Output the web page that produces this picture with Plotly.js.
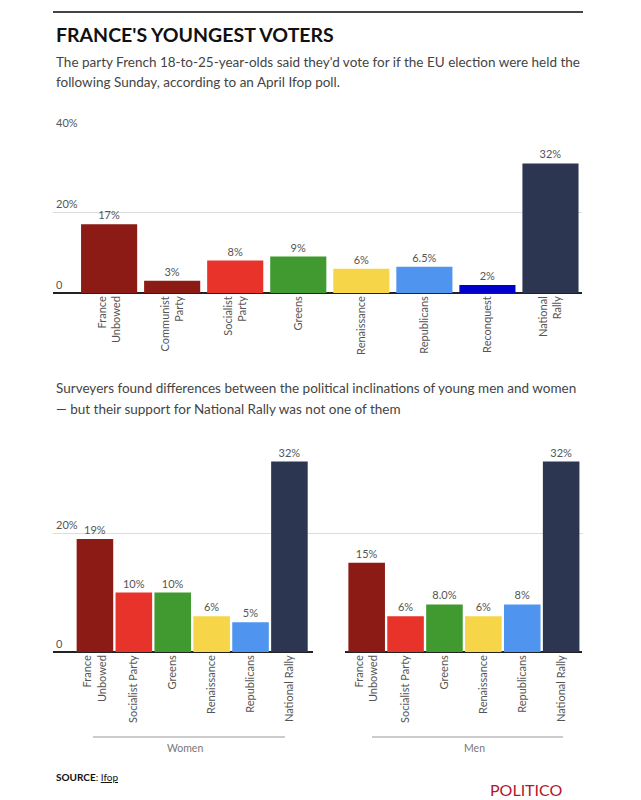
<!DOCTYPE html>
<html>
<head>
<meta charset="utf-8">
<script src="https://cdn.plot.ly/plotly-3.0.1.min.js"></script>
<style>html,body{margin:0;padding:0;background:#fff;}#chart{width:641px;height:800px;}</style>
</head>
<body>
<div id="chart"></div>
<script>
// ---- Data ----
var topCategories = ["France<br>Unbowed","Communist<br>Party","Socialist<br>Party","Greens","Renaissance","Republicans","Reconquest","National<br>Rally"];
var topValues = [17, 3, 8, 9, 6, 6.5, 2, 32];
var topLabels = ["17%","3%","8%","9%","6%","6.5%","2%","32%"];
var topColors = ["#8c1a15","#8c1a15","#e8332a","#409a2f","#f6d548","#4f95ef","#0000cc","#2c3651"];

var genderCategories = ["France<br>Unbowed","Socialist Party","Greens","Renaissance","Republicans","National Rally"];
var womenValues = [19, 10, 10, 6, 5, 32];
var womenLabels = ["19%","10%","10%","6%","5%","32%"];
var menValues = [15, 6, 8, 6, 8, 32];
var menLabels = ["15%","6%","8.0%","6%","8%","32%"];
var genderColors = ["#8c1a15","#e8332a","#409a2f","#f6d548","#4f95ef","#2c3651"];

var topTickVals = [0, 20, 40];
var topTickText = ["0","20%","40%"];
var bottomTickVals = [0, 20];
var bottomTickText = ["0","20%"];

// ---- Helpers ----
var W = 641, H = 800;
function px(x){ return x / W; }
function py(y){ return 1 - y / H; }
var FONT = "Lato, 'Open Sans', sans-serif";

function barTrace(cats, vals, labels, colors, xa, ya, w){
  return {
    type: "bar", x: cats, y: vals, text: labels, textposition: "outside",
    texttemplate: "%{text}", cliponaxis: false, width: w,
    marker: {color: colors, line: {width: 0}},
    textfont: {family: FONT, size: 11, color: "#555"},
    xaxis: xa, yaxis: ya, hoverinfo: "skip", showlegend: false
  };
}

var traces = [
  barTrace(topCategories, topValues, topLabels, topColors, "x", "y", 0.89),
  {type: "scatter", mode: "lines", x: [], y: [], xaxis: "x2", yaxis: "y2", hoverinfo: "skip", showlegend: false},
  barTrace(genderCategories, womenValues, womenLabels, genderColors, "x3", "y3", 0.94),
  barTrace(genderCategories, menValues, menLabels, genderColors, "x4", "y4", 0.94)
];

var catAxis = function(domain, range, anchor){
  return {
    domain: domain, range: range, anchor: anchor, type: "category",
    showgrid: false, zeroline: false, showline: false, ticks: "",
    tickangle: -90, tickfont: {family: FONT, size: 11, color: "#555"},
    fixedrange: true
  };
};

var layout = {
  width: W, height: H,
  margin: {l: 0, r: 0, t: 0, b: 0},
  paper_bgcolor: "#fff", plot_bgcolor: "rgba(0,0,0,0)",
  font: {family: FONT, color: "#333"},
  showlegend: false,
  // top chart
  xaxis: catAxis([px(53), px(582)], [-0.89, 7.5], "y"),
  yaxis: {
    domain: [py(293), py(131)], range: [0, 40], anchor: "x",
    tickvals: topTickVals, ticktext: topTickText,
    ticklabelposition: "inside top", ticklabeloverflow: "allow",
    tickfont: {family: FONT, size: 11, color: "#555"},
    showgrid: true, gridcolor: "#dcdcdc", gridwidth: 1,
    zeroline: true, zerolinecolor: "#222", zerolinewidth: 2,
    showline: false, ticks: "", fixedrange: true
  },
  // bottom grid (shared background)
  xaxis2: {domain: [px(53), px(583)], range: [0, 1], anchor: "y2", visible: false, fixedrange: true},
  yaxis2: {
    domain: [py(652), py(449.7)], range: [0, 34], anchor: "x2",
    tickvals: bottomTickVals, ticktext: bottomTickText,
    ticklabelposition: "inside top", ticklabeloverflow: "allow",
    tickfont: {family: FONT, size: 11, color: "#555"},
    showgrid: true, gridcolor: "#dcdcdc", gridwidth: 1,
    zeroline: false, showline: false, ticks: "", fixedrange: true
  },
  // bottom left (women)
  xaxis3: catAxis([px(53), px(313)], [-1.078, 5.606], "y3"),
  yaxis3: {
    domain: [py(652), py(449.7)], range: [0, 34], anchor: "x3",
    showgrid: false, showticklabels: false, ticks: "",
    zeroline: true, zerolinecolor: "#222", zerolinewidth: 2, fixedrange: true
  },
  // bottom right (men)
  xaxis4: catAxis([px(345), px(582)], [-0.557, 5.536], "y4"),
  yaxis4: {
    domain: [py(652), py(449.7)], range: [0, 34], anchor: "x4",
    showgrid: false, showticklabels: false, ticks: "",
    zeroline: true, zerolinecolor: "#222", zerolinewidth: 2, fixedrange: true
  },
  shapes: [
    {type: "line", xref: "paper", yref: "paper", x0: px(53), x1: px(583), y0: py(12), y1: py(12), line: {color: "#444", width: 2}},
    {type: "line", xref: "paper", yref: "paper", x0: px(93), x1: px(285), y0: py(737), y1: py(737), line: {color: "#999", width: 1}},
    {type: "line", xref: "paper", yref: "paper", x0: px(372), x1: px(563), y0: py(737), y1: py(737), line: {color: "#999", width: 1}}
  ],
  annotations: [
    {text: "<b>FRANCE'S YOUNGEST VOTERS</b>", xref: "paper", yref: "paper", x: px(54), y: py(34.5), xanchor: "left", yanchor: "middle", showarrow: false, font: {family: FONT, size: 19.5, color: "#111"}},
    {text: "The party French 18-to-25-year-olds said they'd vote for if the EU election were held the", xref: "paper", yref: "paper", x: px(54), y: py(62), xanchor: "left", yanchor: "middle", showarrow: false, font: {family: FONT, size: 13.5, color: "#444"}},
    {text: "following Sunday, according to an April Ifop poll.", xref: "paper", yref: "paper", x: px(54), y: py(82), xanchor: "left", yanchor: "middle", showarrow: false, font: {family: FONT, size: 13.5, color: "#444"}},
    {text: "Surveyers found differences between the political inclinations of young men and women", xref: "paper", yref: "paper", x: px(54), y: py(388), xanchor: "left", yanchor: "middle", showarrow: false, font: {family: FONT, size: 13.5, color: "#444"}},
    {text: "— but their support for National Rally was not one of them", xref: "paper", yref: "paper", x: px(54), y: py(409), xanchor: "left", yanchor: "middle", showarrow: false, font: {family: FONT, size: 13.5, color: "#444"}},
    {text: "Women", xref: "paper", yref: "paper", x: px(185), y: py(748), xanchor: "center", yanchor: "middle", showarrow: false, font: {family: FONT, size: 10.5, color: "#777"}},
    {text: "Men", xref: "paper", yref: "paper", x: px(474), y: py(748), xanchor: "center", yanchor: "middle", showarrow: false, font: {family: FONT, size: 10.5, color: "#777"}},
    {text: "<b>SOURCE</b>: <span style='text-decoration:underline'>Ifop</span>", xref: "paper", yref: "paper", x: px(54), y: py(777), xanchor: "left", yanchor: "middle", showarrow: false, font: {family: FONT, size: 10, color: "#111"}},
    {text: "POLITICO", xref: "paper", yref: "paper", x: px(526), y: py(789), xanchor: "center", yanchor: "middle", showarrow: false, font: {family: FONT, size: 16, color: "#b0182b"}}
  ]
};

Plotly.newPlot("chart", traces, layout, {staticPlot: true, displayModeBar: false});
</script>
</body>
</html>
